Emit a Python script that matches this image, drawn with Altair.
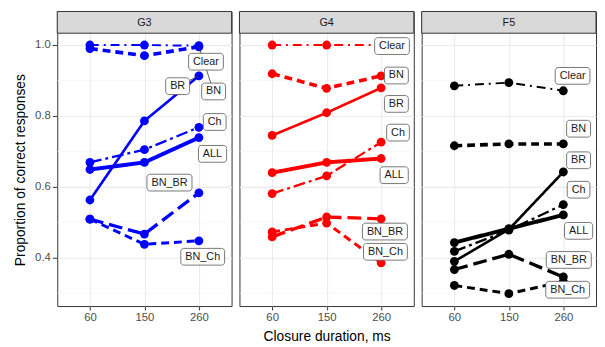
import altair as alt
import pandas as pd

# ---------------- data ----------------
durations = ["60", "150", "260"]
panels = ["G3", "G4", "F5"]
panel_colors = ["#0000ff", "#ff0000", "#000000"]
series = ["ALL", "BN", "BN_BR", "BN_Ch", "BR", "Ch", "Clear"]

g3_values = {
    "ALL": [0.649, 0.669, 0.739],
    "BN": [0.990, 0.970, 0.995],
    "BN_BR": [0.509, 0.467, 0.583],
    "BN_Ch": [0.509, 0.438, 0.448],
    "BR": [0.563, 0.786, 0.913],
    "Ch": [0.669, 0.705, 0.768],
    "Clear": [1.000, 1.000, 0.998],
}
g4_values = {
    "ALL": [0.640, 0.669, 0.680],
    "BN": [0.919, 0.878, 0.913],
    "BN_BR": [0.459, 0.515, 0.510],
    "BN_Ch": [0.473, 0.498, 0.386],
    "BR": [0.745, 0.809, 0.879],
    "Ch": [0.581, 0.631, 0.726],
    "Clear": [1.000, 1.000, 1.000],
}
f5_values = {
    "ALL": [0.443, 0.482, 0.521],
    "BN": [0.716, 0.721, 0.721],
    "BN_BR": [0.367, 0.410, 0.346],
    "BN_Ch": [0.322, 0.299, 0.333],
    "BR": [0.390, 0.480, 0.642],
    "Ch": [0.418, 0.478, 0.550],
    "Clear": [0.885, 0.894, 0.871],
}

# repelled label anchors (position index along x, proportion along y)
g3_labels = {
    "Clear": (2.13, 0.953), "BN": (2.27, 0.869), "BR": (1.61, 0.884),
    "Ch": (2.29, 0.783), "ALL": (2.25, 0.693), "BN_BR": (1.46, 0.612),
    "BN_Ch": (2.07, 0.403),
}
g4_labels = {
    "Clear": (2.20, 0.997), "BN": (2.28, 0.914), "BR": (2.28, 0.834),
    "Ch": (2.31, 0.753), "ALL": (2.24, 0.633), "BN_BR": (2.07, 0.474),
    "BN_Ch": (2.08, 0.417),
}
f5_labels = {
    "Clear": (2.17, 0.913), "BN": (2.28, 0.764), "BR": (2.28, 0.675),
    "Ch": (2.28, 0.592), "ALL": (2.28, 0.476), "BN_BR": (2.10, 0.394),
    "BN_Ch": (2.08, 0.310),
}
segments = [("G3", "BR"), ("G3", "BN")]

y_ticks = [0.4, 0.6, 0.8, 1.0]
y_minor = [0.3, 0.5, 0.7, 0.9]

# ---------------- layout constants ----------------
PW, PH = 177, 299
STRIP = 22
XMIN, XMAX = -0.6, 2.6
YMIN, YMAX = 0.264, 1.0944
PX_X = PW / (XMAX - XMIN)
PX_Y = PH / (YMAX - YMIN)

char_w = {"A": 667, "B": 667, "C": 722, "N": 722, "R": 722, "L": 556, "_": 556,
          "h": 556, "l": 222, "e": 556, "a": 556, "r": 333}


def text_width(s, size=11):
    return sum(char_w.get(c, 556) for c in s) / 1000 * size


values_by_panel = {"G3": g3_values, "G4": g4_values, "F5": f5_values}
labels_by_panel = {"G3": g3_labels, "G4": g4_labels, "F5": f5_labels}

dash_range = [[1, 0], [8, 5], [14, 6], [8, 5], [1, 0], [12, 4, 3, 4], [9, 5, 2, 5]]
width_range = [4, 2, 2, 2, 2, 2, 1.7]

x_scale = alt.Scale(domain=[XMIN, XMAX], nice=False, zero=False)
y_scale = alt.Scale(domain=[YMIN, YMAX], nice=False, zero=False)
label_expr = "[" + ",".join(f"'{d}'" for d in durations) + "][datum.value]"


def make_panel(i, name, color):
    vals = values_by_panel[name]
    labs = labels_by_panel[name]
    line_rows = [
        {"series": s, "idx": j, "value": v}
        for s in series for j, v in enumerate(vals[s])
    ]
    df = pd.DataFrame(line_rows)

    lab_rows = []
    for s in series:
        lx, ly = labs[s]
        hw = (text_width(s) + 9) / 2 / PX_X
        hh = 8.5 / PX_Y
        lab_rows.append({"series": s, "lx": lx, "ly": ly,
                         "x1": lx - hw, "x2": lx + hw, "y1": ly - hh, "y2": ly + hh})
    ldf = pd.DataFrame(lab_rows)

    seg_rows = [{"lx": labs[s][0], "ly": labs[s][1], "px": 2, "pv": vals[s][2]}
                for p, s in segments if p == name]

    first = i == 0
    if first:
        yaxis = alt.Axis(values=y_ticks, format=".1f", title="Proportion of correct responses",
                         titleY=160.5, titleFontSize=14, titleFontWeight="normal",
                         titleColor="#000000", titlePadding=7, labelFontSize=11.5,
                         labelColor="#4d4d4d", labelPadding=2, tickSize=5,
                         tickColor="#333333", domain=False, grid=True,
                         gridColor="#ebebeb", gridWidth=1.1)
    else:
        yaxis = alt.Axis(values=y_ticks, title=None, labels=False, ticks=False,
                         domain=False, grid=True, gridColor="#ebebeb", gridWidth=1.1)
    xaxis = alt.Axis(values=[0, 1, 2], labelExpr=label_expr,
                     title="Closure duration, ms" if i == 1 else None,
                     titleFontSize=14, titleFontWeight="normal", titleColor="#000000",
                     titlePadding=6, labelFontSize=11.5, labelColor="#4d4d4d",
                     labelPadding=2, tickSize=4, tickColor="#333333", domain=False,
                     grid=True, gridColor="#ebebeb", gridWidth=1.1)

    def X(f):
        return alt.X(f, type="quantitative", scale=x_scale, axis=xaxis)

    def Y(f):
        return alt.Y(f, type="quantitative", scale=y_scale, axis=yaxis)

    minor = alt.Chart(pd.DataFrame({"value": y_minor})).mark_rule(
        color="#f2f2f2", strokeWidth=0.6).encode(y=Y("value"))

    strip_df = pd.DataFrame({"g": [name]})
    strip = alt.Chart(strip_df).mark_rect(fill="#d9d9d9", stroke="#333333", strokeWidth=1).encode(
        x=alt.value(0), x2=alt.value(PW), y=alt.value(0), y2=alt.value(STRIP))
    strip_text = alt.Chart(strip_df).mark_text(fontSize=11, color="#1a1a1a").encode(
        x=alt.value(PW / 2), y=alt.value(STRIP / 2 + 0.5), text="g:N")

    lines = alt.Chart(df).mark_line(color=color, strokeCap="butt").encode(
        x=X("idx"), y=Y("value"),
        detail="series:N",
        strokeDash=alt.StrokeDash("series:N", scale=alt.Scale(domain=series, range=dash_range), legend=None),
        strokeWidth=alt.StrokeWidth("series:N", scale=alt.Scale(domain=series, range=width_range), legend=None),
    )
    points = alt.Chart(df).mark_circle(size=80, color=color, opacity=1).encode(
        x=X("idx"), y=Y("value"))

    layers = [minor, lines, points]
    if seg_rows:
        segs = alt.Chart(pd.DataFrame(seg_rows)).mark_rule(color="#333333", strokeWidth=0.8).encode(
            x=X("lx"), y=Y("ly"), x2="px:Q", y2="pv:Q")
        layers.append(segs)

    boxes = alt.Chart(ldf).mark_rect(fill="white", stroke="#555555", strokeWidth=0.8,
                                     cornerRadius=3).encode(
        x=X("x1"), x2="x2:Q", y=Y("y1"), y2="y2:Q")
    texts = alt.Chart(ldf).mark_text(fontSize=11, color="#1a1a1a", baseline="middle").encode(
        x=X("lx"), y=Y("ly"), text="series:N")
    layers += [boxes, texts, strip, strip_text]

    return alt.layer(*layers).properties(width=PW, height=PH)


charts = [make_panel(i, n, c) for i, (n, c) in enumerate(zip(panels, panel_colors))]

chart = alt.hconcat(*charts, spacing=8, bounds="flush").properties(
    padding={"left": 5, "top": 0, "right": 0, "bottom": 2}
).configure(font="Liberation Sans").configure_view(stroke="#333333", strokeWidth=1)

chart.save("out.html", embed_options={"renderer": "svg", "actions": False})
